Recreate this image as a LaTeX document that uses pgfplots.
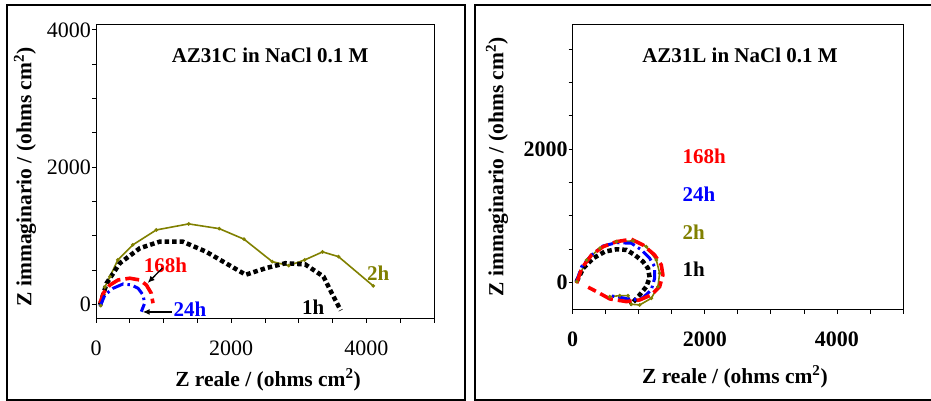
\documentclass[border=0pt]{standalone}
\usepackage{fontspec}
\setmainfont{Liberation Serif}
\usepackage{pgfplots}
\pgfplotsset{compat=1.18}
\usetikzlibrary{arrows.meta}
\definecolor{olv}{RGB}{128,128,0}

\tikzset{lab/.style={font=\fontsize{21}{24}\selectfont\bfseries, inner sep=0pt}}
\pgfplotsset{
  eis/.style={
    scale only axis, clip=false,
    axis line style={line width=1pt},
    tick align=outside, tick pos=left,
    xmin=0, xmax=5000,
    xtick={0,2000,4000},
    minor xtick={500,1000,1500,2500,3000,3500,4500,5000},
    minor ytick={500,1000,1500,2500,3000,3500},
    major tick length=4pt, minor tick length=4pt,
    tick style={black, line width=0.8pt},
    minor tick style={black, line width=0.8pt},
    scaled ticks=false,
    /pgf/number format/1000 sep={},
    /pgf/number format/assume math mode=true,
    tick label style={inner sep=1pt},
    xticklabel shift=17pt,
    xlabel={Z reale / (ohms cm\textsuperscript{2})},
    ylabel={Z immaginario / (ohms cm\textsuperscript{2})},
    label style={font=\fontsize{21.5}{24}\selectfont\bfseries},
  },
  c1h/.style={black, line width=4.5pt, dash pattern=on 4.5pt off 3pt},
  c2h/.style={olv, line width=1.6pt, mark=*, mark size=0.9pt,
    mark options={solid, fill=gray!25, draw=none}},
  c24h/.style={blue, line width=3pt, dash pattern=on 12pt off 4pt on 2.5pt off 4pt},
  c168h/.style={red, line width=3.6pt, dash pattern=on 14pt off 5pt},
}

\begin{document}
\begin{tikzpicture}
\useasboundingbox (0,0) rectangle (931pt,401pt);
\draw[line width=2.2pt] (7pt,1.2pt) rectangle (465.2pt,395.7pt);
\draw[line width=2.2pt] (940pt,395.7pt) -- (475.2pt,395.7pt) -- (475.2pt,1.2pt) -- (940pt,1.2pt);

% AZ31C
\begin{axis}[eis,
    at={(96pt,82pt)}, anchor=south west,
    width=338pt, height=294pt,
    ymin=-215, ymax=4070,
    ytick={0,2000,4000},
    tick label style={font=\fontsize{22}{24}\selectfont},
    xlabel style={at={(axis description cs:0.509,-0.2075)}, anchor=center},
    ylabel style={at={(axis description cs:-0.210,0.483)}, anchor=center},
]
\addplot[c2h] coordinates {
  (70,-20) (130,250) (206,402) (323,646) (544,865) (892,1083) (1371,1171)
  (1823,1102) (2190,948) (2607,621) (2852,563) (3087,646) (3352,763)
  (3587,694) (4101,267)};
\addplot[c1h] coordinates {
  (60,-10) (157,306) (353,598) (647,816) (941,912) (1283,912) (1627,767)
  (1921,598) (2215,430) (2508,525) (2803,598) (3097,580) (3366,402)
  (3489,160) (3620,-90)};
\addplot[c168h] coordinates {
  (59,15) (107,160) (206,281) (328,354) (500,379) (647,354) (745,281)
  (817,160) (843,15)};
\addplot[c24h] coordinates {
  (59,-35) (132,136) (254,233) (401,296) (524,281) (622,233) (695,136)
  (720,15) (670,-108)};
\node[lab] at (axis description cs:0.515,0.898) {AZ31C in NaCl 0.1 M};
\node[lab, red] at (axis cs:1029,573) {168h};
\node[lab, blue] at (axis cs:1389,-69) {24h};
\node[lab] at (axis cs:3212,-39) {1h};
\node[lab, olv] at (axis cs:4175,456) {2h};
\draw[-{Latex[length=7pt,width=6pt]}, line width=1.3pt] (axis cs:985,529) -- (axis cs:764,310);
\draw[-{Latex[length=7pt,width=6pt]}, line width=1.3pt] (axis cs:1117,-112) -- (axis cs:691,-112);
\end{axis}

% AZ31L
\begin{axis}[eis,
    at={(572.7pt,91pt)}, anchor=south west,
    width=330.3pt, height=285pt,
    ymin=-410, ymax=3860,
    ytick={0,2000},
    tick label style={font=\fontsize{22}{24}\selectfont\bfseries},
    xlabel style={at={(axis description cs:0.491,-0.235)}, anchor=center},
    ylabel style={at={(axis description cs:-0.229,0.502)}, anchor=center},
]
\addplot[c2h] coordinates {
  (60,15) (211,340) (411,515) (663,614) (913,625) (1115,539) (1266,340)
  (1316,140) (1290,-60) (1190,-234) (1014,-334) (889,-324) (838,-195)
  (713,-195) (562,-210)};
\addplot[c1h] coordinates {
  (60,15) (160,215) (311,365) (487,465) (663,500) (814,490) (939,415)
  (1064,315) (1140,215) (1165,75) (1115,-60) (1014,-184) (913,-294) (863,-324)};
\addplot[c24h] coordinates {
  (50,0) (136,240) (286,415) (461,549) (663,599) (889,590) (1040,490)
  (1165,365) (1240,240) (1240,66) (1190,-109) (1064,-225) (913,-259)
  (738,-225) (562,-195)};
\addplot[c168h] coordinates {
  (60,-9) (136,215) (286,415) (461,539) (663,614) (889,650) (1064,564)
  (1240,415) (1341,265) (1365,115) (1316,-60) (1190,-184) (1014,-259)
  (814,-284) (562,-244) (362,-135) (235,-69)};
\node[lab] at (axis description cs:0.5065,0.895) {AZ31L in NaCl 0.1 M};
\node[lab, red, anchor=west] at (axis cs:1662,1897) {168h};
\node[lab, blue, anchor=west] at (axis cs:1662,1328) {24h};
\node[lab, olv, anchor=west] at (axis cs:1662,759) {2h};
\node[lab, anchor=west] at (axis cs:1662,205) {1h};
\end{axis}
\end{tikzpicture}
\end{document}
